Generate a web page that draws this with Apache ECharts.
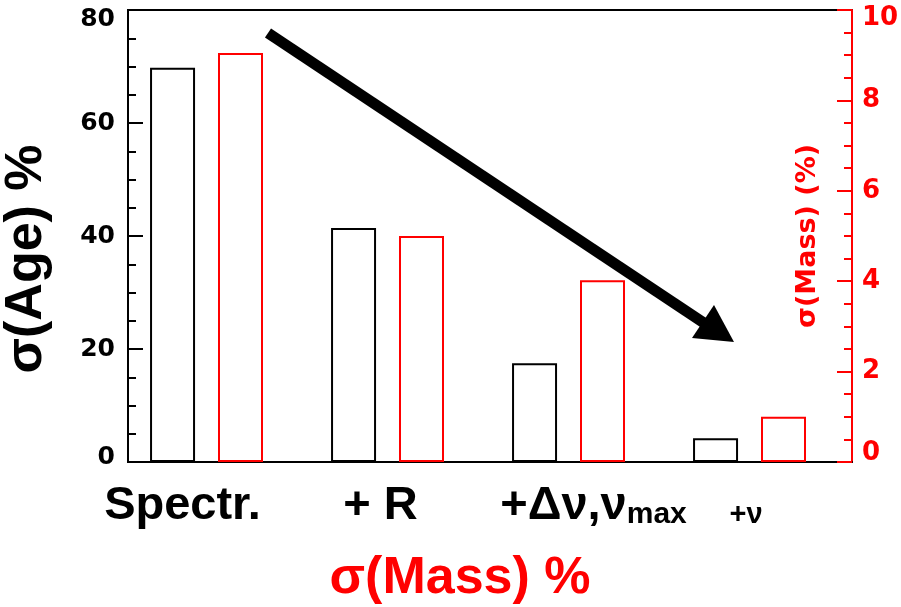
<!DOCTYPE html>
<html>
<head>
<meta charset="utf-8">
<script src="https://cdn.jsdelivr.net/npm/echarts@6/dist/echarts.min.js"></script>
<style>
  html, body { margin: 0; padding: 0; background: #fff; }
  #chart { width: 901px; height: 607px; }
</style>
</head>
<body>
<div id="chart"></div>
<script>
// Uncertainty budget per added constraint
const categories = ['Spectr.', '+ R', '+Δν,νmax', '+ν'];
const ageErr = [69.8, 41.4, 17.5, 4.2];   // σ(Age) %, left axis
const massErr = [9.05, 5.0, 4.02, 1.0];   // σ(Mass) %, right axis
const ageTicks = { min: 0, max: 80, step: 20 };
const massTicks = { min: 0, max: 10, step: 2 };

const RED = '#ff0000';
const BLACK = '#000000';

// label nudges so the captions sit where the author put them
const labelPad = [[0, 72, 0, 0], [0, 38, 0, 0], [0, 0, 0, 26], [13, 31, 0, 0]];

// end labels are pulled inside the axis span
function endLabel(lo, hi) {
  return function (v) {
    if (v === hi) return '{top|' + v + '}';
    if (v === lo) return '{bot|' + v + '}';
    return '{n|' + v + '}';
  };
}
function tickRich(color, size, topPad, botPad) {
  const base = { fontFamily: 'DejaVu Sans', fontWeight: 'bold', fontSize: size, color: color };
  return {
    n: base,
    top: Object.assign({}, base, { padding: [topPad, 0, 0, 0] }),
    bot: Object.assign({}, base, { padding: [0, 0, botPad, 0] })
  };
}

const chart = echarts.init(document.getElementById('chart'), null, { renderer: 'canvas' });

const option = {
  backgroundColor: '#fff',
  animation: false,
  grid: {
    left: 128, right: 49, top: 10, bottom: 145,
    outerBoundsMode: 'none',
    containLabel: false,
    show: true, borderColor: BLACK, borderWidth: 2, backgroundColor: 'transparent'
  },
  xAxis: {
    type: 'category',
    data: categories.map((c, i) => ({ value: c, textStyle: { padding: labelPad[i] } })),
    boundaryGap: true,
    axisLine: { show: true, lineStyle: { color: BLACK, width: 2 } },
    axisTick: { show: false },
    axisLabel: {
      margin: 18,
      interval: 0,
      formatter: function (v) {
        if (v === '+Δν,νmax') return '{big|+Δν,ν}{mid|max}';
        if (v === '+ν') return '{small|+ν}';
        return '{big|' + v + '}';
      },
      rich: {
        big: { fontFamily: 'Liberation Sans', fontWeight: 'bold', fontSize: 47, color: BLACK, lineHeight: 50, verticalAlign: 'bottom' },
        mid: { fontFamily: 'Liberation Sans', fontWeight: 'bold', fontSize: 30, color: BLACK, lineHeight: 38, verticalAlign: 'bottom' },
        small: { fontFamily: 'Liberation Sans', fontWeight: 'bold', fontSize: 29, color: BLACK, lineHeight: 36, verticalAlign: 'bottom' }
      }
    },
    name: 'σ(Mass) %',
    nameLocation: 'middle',
    nameGap: 91,
    nameTextStyle: { fontFamily: 'Liberation Sans', fontWeight: 'bold', fontSize: 52, color: RED, padding: [0, 60, 0, 0] },
    splitLine: { show: false }
  },
  yAxis: [
    {
      type: 'value',
      position: 'left',
      min: ageTicks.min, max: ageTicks.max, interval: ageTicks.step,
      axisLine: { show: true, lineStyle: { color: BLACK, width: 2 } },
      axisTick: { show: true, inside: true, length: 15, lineStyle: { color: BLACK, width: 2 } },
      minorTick: { show: true, splitNumber: 4, length: 8, lineStyle: { color: BLACK, width: 2 } },
      axisLabel: {
        margin: 13,
        formatter: endLabel(ageTicks.min, ageTicks.max),
        rich: tickRich(BLACK, 25, 18, 10)
      },
      splitLine: { show: false },
      name: 'σ(Age) %',
      nameLocation: 'middle',
      nameRotate: 90,
      nameGap: 75,
      nameTextStyle: { fontFamily: 'Liberation Sans', fontWeight: 'bold', fontSize: 52, color: BLACK, padding: [0, 46, 0, 0] }
    },
    {
      type: 'value',
      position: 'right',
      min: massTicks.min, max: massTicks.max, interval: massTicks.step,
      axisLine: { show: true, lineStyle: { color: RED, width: 2 } },
      axisTick: { show: true, inside: true, length: 15, lineStyle: { color: RED, width: 2 } },
      minorTick: { show: true, splitNumber: 4, length: 8, lineStyle: { color: RED, width: 2 } },
      axisLabel: {
        margin: 10,
        formatter: endLabel(massTicks.min, massTicks.max),
        rich: tickRich(RED, 26, 16, 18)
      },
      splitLine: { show: false },
      name: 'σ(Mass) (%)',
      nameLocation: 'middle',
      nameRotate: 90,
      nameGap: -58,
      nameTextStyle: { fontFamily: 'DejaVu Sans', fontWeight: 'bold', fontSize: 27, color: RED }
    }
  ],
  series: [
    {
      name: 'σ(Age)',
      type: 'bar',
      yAxisIndex: 0,
      data: ageErr,
      barWidth: 45,
      barGap: '51%',
      itemStyle: { color: 'rgba(0,0,0,0)', borderColor: BLACK, borderWidth: 2 },
      z: 3
    },
    {
      name: 'σ(Mass)',
      type: 'bar',
      yAxisIndex: 1,
      data: massErr,
      barWidth: 45,
      barGap: '51%',
      itemStyle: { color: 'rgba(0,0,0,0)', borderColor: RED, borderWidth: 2 },
      z: 3
    },
    {
      // empty slot that keeps each pair left of the category centre
      name: 'spacer',
      type: 'bar',
      yAxisIndex: 0,
      data: categories.map(() => 0),
      barWidth: 1,
      barGap: '51%',
      itemStyle: { color: 'rgba(0,0,0,0)' },
      silent: true
    }
  ],
  graphic: [
    {
      type: 'group',
      z: 100,
      children: [
        {
          type: 'line',
          shape: { x1: 268, y1: 33, x2: 704, y2: 323 },
          style: { stroke: BLACK, lineWidth: 11 }
        },
        {
          type: 'polygon',
          shape: { points: [[734, 342], [692, 338], [714, 305]] },
          style: { fill: BLACK }
        }
      ]
    }
  ]
};

chart.setOption(option);
</script>
</body>
</html>
